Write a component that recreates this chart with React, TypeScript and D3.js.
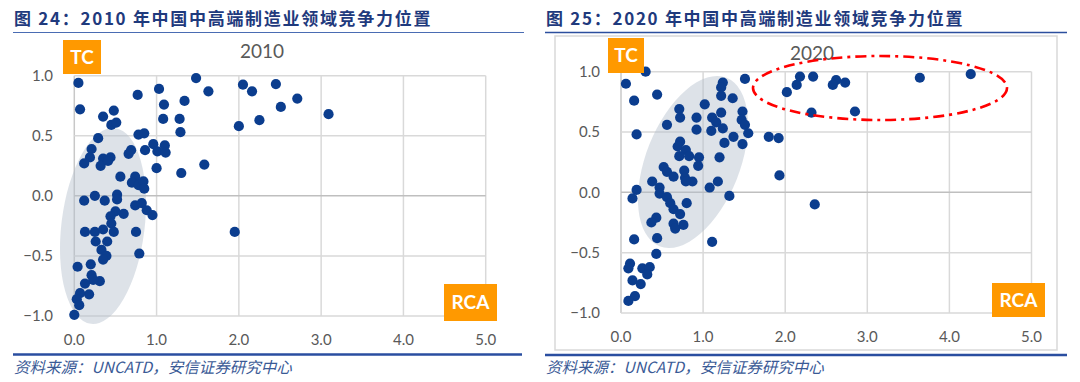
import React from "react";
import * as d3 from "d3";

const xTicks = [0, 1, 2, 3, 4, 5];
const yTicks = [-1, -0.5, 0, 0.5, 1];

const x2010 = [0.05,0.07,0.77,1.03,1.48,1.63,1.09,1.34,1.08,1.28,1.29,1.58,1.30,1.00,0.35,0.48,0.45,0.51,0.29,0.78,0.85,0.21,0.19,0.12,0.35,0.44,0.32,0.41,0.66,0.69,0.86,0.96,1.01,1.10,1.11,0.56,0.74,0.70,0.78,0.84,0.85,0.12,0.25,0.37,0.52,0.52,0.74,0.82,0.88,0.95,0.60,0.50,0.44,0.45,0.13,0.25,0.35,0.48,0.26,0.40,0.33,0.39,0.35,0.75,0.79,0.04,0.20,0.21,0.31,0.23,0.13,0.18,0.07,0.03,0.06,0.00,2.05,2.16,2.45,2.71,2.51,2.25,2.00,3.09,1.95];
const y2010 = [0.94,0.72,0.84,0.89,0.98,0.87,0.76,0.79,0.64,0.64,0.53,0.26,0.19,0.23,0.66,0.71,0.59,0.61,0.48,0.51,0.52,0.39,0.32,0.27,0.31,0.32,0.25,0.29,0.35,0.38,0.38,0.43,0.37,0.42,0.36,0.16,0.16,0.11,0.09,0.12,0.06,-0.04,0.00,-0.04,0.01,-0.03,-0.08,-0.06,-0.12,-0.16,-0.15,-0.13,-0.17,-0.23,-0.30,-0.30,-0.28,-0.30,-0.38,-0.38,-0.45,-0.50,-0.53,-0.30,-0.48,-0.59,-0.57,-0.66,-0.71,-0.70,-0.73,-0.82,-0.81,-0.86,-0.91,-0.99,0.925,0.87,0.93,0.81,0.74,0.63,0.58,0.68,-0.30];

const x2020 = [0.06,0.30,0.16,0.44,0.19,1.51,1.24,1.22,1.22,1.36,1.02,0.71,0.72,0.92,0.56,0.92,1.11,1.22,1.16,1.10,1.24,1.48,1.47,1.51,1.55,1.37,1.26,1.48,0.72,0.69,0.79,0.71,0.83,0.95,1.20,0.94,0.52,0.56,0.64,0.77,0.78,0.87,0.79,0.38,0.47,0.19,0.14,0.47,0.56,0.60,0.64,0.80,0.72,1.08,1.18,1.32,0.43,0.37,0.64,0.76,0.66,0.44,0.16,1.11,0.43,0.11,0.09,0.26,0.35,0.32,0.14,0.24,0.17,0.09,1.80,1.92,1.93,2.36,2.02,2.14,2.18,2.34,2.62,2.58,2.73,2.32,2.85,3.64,4.26];
const y2020 = [0.90,1.00,0.76,0.81,0.48,0.94,0.91,0.87,0.80,0.78,0.73,0.69,0.62,0.62,0.56,0.52,0.62,0.66,0.58,0.51,0.53,0.67,0.60,0.56,0.49,0.46,0.41,0.40,0.42,0.38,0.35,0.30,0.30,0.29,0.29,0.22,0.21,0.17,0.13,0.18,0.12,0.09,0.09,0.09,0.04,0.02,-0.05,-0.01,-0.04,-0.09,-0.14,-0.09,-0.18,0.04,0.09,-0.03,-0.21,-0.25,-0.26,-0.27,-0.30,-0.38,-0.39,-0.41,-0.51,-0.59,-0.63,-0.63,-0.62,-0.68,-0.73,-0.76,-0.86,-0.90,0.46,0.45,0.14,-0.10,0.83,0.89,0.96,0.96,0.93,0.89,0.91,0.66,0.67,0.95,0.98];

const titles = ["图 24：2010 年中国中高端制造业领域竞争力位置", "图 25：2020 年中国中高端制造业领域竞争力位置"];
const yearLabels = ["2010", "2020"];
const source = "资料来源：UNCATD，安信证券研究中心";

const DOT = "#0b3d8e";
const ORANGE = "#ff9900";
const TICK = "#595959";
const TITLE = "#1f3a7d";
const FONT = "Lato, 'Open Sans', sans-serif";
const CJK = "'Noto Sans CJK SC', sans-serif";

type PanelProps = {
  xs: number[]; ys: number[];
  xr: [number, number]; yr: [number, number];
  ellipse: { cx: number; cy: number; rx: number; ry: number; rot: number };
  year: string; yearPos: [number, number];
  tc: [number, number, number, number];
  rca: [number, number, number, number];
  labelRight: number; xLabelY: number;
  children?: React.ReactNode;
};

function Panel(p: PanelProps) {
  const x = d3.scaleLinear().domain([0, 5]).range(p.xr);
  const y = d3.scaleLinear().domain([-1, 1]).range(p.yr);
  return (
    <g>
      {xTicks.map((t) => (
        <line key={"vx" + t} x1={x(t)} x2={x(t)} y1={y(-1)} y2={y(1)}
          stroke={t === 0 ? "#c8c8c8" : "#d9d9d9"} strokeWidth={1.5} />
      ))}
      {yTicks.map((t) => (
        <line key={"hy" + t} x1={x(0)} x2={x(5)} y1={y(t)} y2={y(t)}
          stroke={t === 0 ? "#bfbfbf" : "#d9d9d9"} strokeWidth={1.5} />
      ))}
      <ellipse cx={p.ellipse.cx} cy={p.ellipse.cy} rx={p.ellipse.rx} ry={p.ellipse.ry}
        transform={`rotate(${p.ellipse.rot} ${p.ellipse.cx} ${p.ellipse.cy})`}
        fill="#b4bfcc" fillOpacity={0.45} />
      {yTicks.map((t) => (
        <text key={"yl" + t} x={p.labelRight} y={y(t)} dy="0.36em" textAnchor="end"
          fontFamily={FONT} fontSize={15} fill={TICK}>{d3.format(".1f")(t)}</text>
      ))}
      {xTicks.map((t) => (
        <text key={"xl" + t} x={x(t)} y={p.xLabelY} textAnchor="middle"
          fontFamily={FONT} fontSize={15} fill={TICK}>{d3.format(".1f")(t)}</text>
      ))}
      {p.xs.map((v, i) => (
        <circle key={"c" + i} cx={x(v)} cy={y(p.ys[i])} r={5.1} fill={DOT} />
      ))}
      <text x={p.yearPos[0]} y={p.yearPos[1]} textAnchor="middle" fontFamily={FONT}
        fontSize={19} fill={TICK}>{p.year}</text>
      <rect x={p.tc[0]} y={p.tc[1]} width={p.tc[2]} height={p.tc[3]} fill={ORANGE} />
      <text x={p.tc[0] + p.tc[2] / 2} y={p.tc[1] + p.tc[3] / 2} dy="0.36em" textAnchor="middle"
        fontFamily={FONT} fontWeight="bold" fontSize={19} fill="#fff">TC</text>
      <rect x={p.rca[0]} y={p.rca[1]} width={p.rca[2]} height={p.rca[3]} fill={ORANGE} />
      <text x={p.rca[0] + p.rca[2] / 2} y={p.rca[1] + p.rca[3] / 2} dy="0.36em" textAnchor="middle"
        fontFamily={FONT} fontWeight="bold" fontSize={19} fill="#fff">RCA</text>
      {p.children}
    </g>
  );
}

export default function App() {
  return (
    <svg width={1080} height={382} style={{ position: "absolute", left: 0, top: 0, background: "#fff" }}>
      <rect x={0} y={0} width={1080} height={382} fill="#fff" />
      <text x={14} y={25} fontFamily={CJK} fontWeight="bold" fontSize={17} letterSpacing={1.7} fill={TITLE}>{titles[0]}</text>
      <text x={546} y={25} fontFamily={CJK} fontWeight="bold" fontSize={17} letterSpacing={1.7} fill={TITLE}>{titles[1]}</text>
      <line x1={13} x2={524} y1={32.5} y2={32.5} stroke="#4a6cb3" strokeWidth={1.2} />
      <line x1={545} x2={1067} y1={32.5} y2={32.5} stroke="#2c4f9e" strokeWidth={1.6} />
      <rect x={555} y={36} width={502} height={314} fill="none" stroke="#d9d9d9" strokeWidth={1.5} />
      <Panel xs={x2010} ys={y2010} xr={[74.3, 485.7]} yr={[316, 75.7]}
        ellipse={{ cx: 103, cy: 226, rx: 41.6, ry: 98.6, rot: 7 }}
        year={yearLabels[0]} yearPos={[262, 58]}
        tc={[63, 40, 38, 34]} rca={[444, 284, 53, 37]}
        labelRight={53} xLabelY={345} />
      <Panel xs={x2020} ys={y2020} xr={[621, 1031.5]} yr={[313, 71.7]}
        ellipse={{ cx: 693, cy: 162, rx: 47, ry: 90.6, rot: 21.7 }}
        year={yearLabels[1]} yearPos={[812, 60]}
        tc={[608, 38, 36, 35]} rca={[992, 283, 53, 34]}
        labelRight={600} xLabelY={342}>
        <ellipse cx={880} cy={88} rx={127} ry={32} fill="none" stroke="#ff0000"
          strokeWidth={2.6} strokeDasharray="11 5 3 5" />
      </Panel>
      <line x1={13} x2={522} y1={354.5} y2={354.5} stroke="#2a4ea0" strokeWidth={2.5} />
      <line x1={545} x2={1067} y1={355} y2={355} stroke="#2a4ea0" strokeWidth={2.5} />
      <text x={14} y={373} fontFamily={CJK} fontStyle="italic" fontSize={15.5} fill="#3a5a96">{source}</text>
      <text x={546} y={373} fontFamily={CJK} fontStyle="italic" fontSize={15.5} fill="#3a5a96">{source}</text>
    </svg>
  );
}
